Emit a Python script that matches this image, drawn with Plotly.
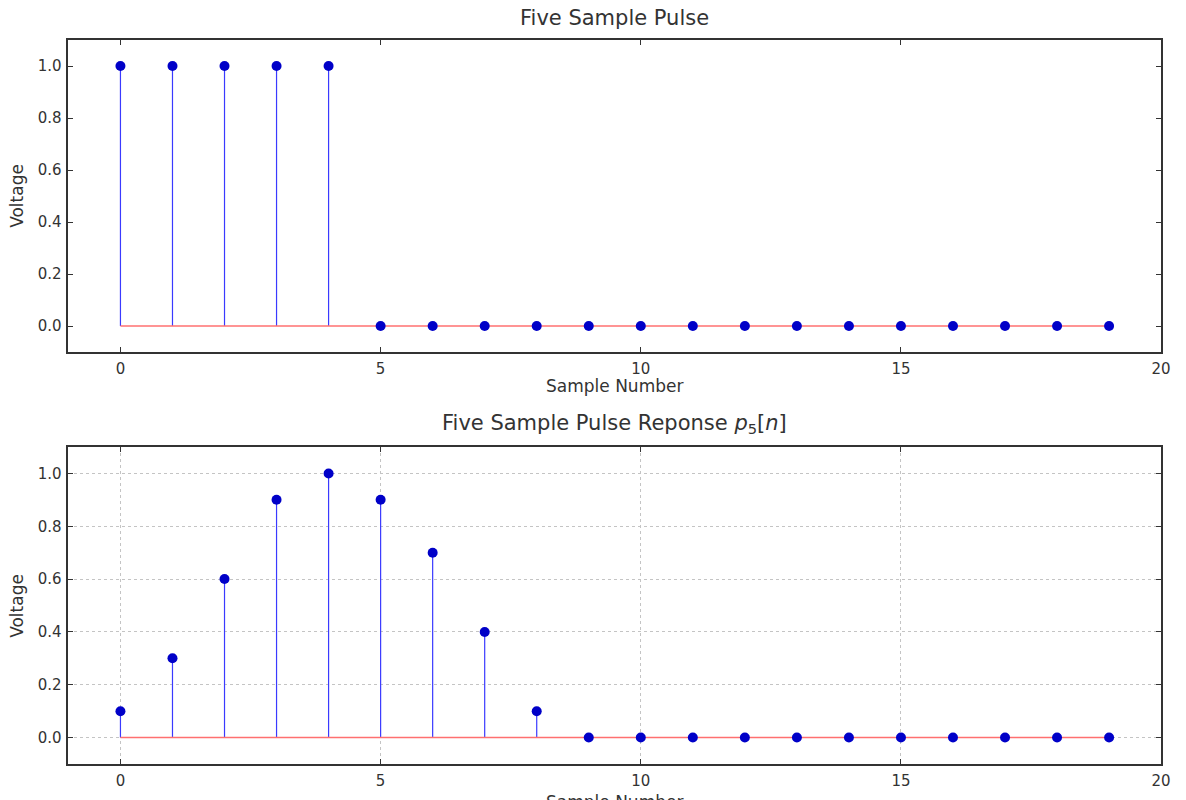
import plotly.graph_objects as go

samples = list(range(20))
pulse = [1, 1, 1, 1, 1] + [0] * 15
response = [0.1, 0.3, 0.6, 0.9, 1.0, 0.9, 0.7, 0.4, 0.1] + [0] * 11
x_ticks = [0, 5, 10, 15, 20]
y_ticks = [0.0, 0.2, 0.4, 0.6, 0.8, 1.0]
y_labels = ["0.0", "0.2", "0.4", "0.6", "0.8", "1.0"]

STEM = "#3a3aff"
MARK = "#0000c8"
BASE = "#ff7070"
FONT = "DejaVu Sans"
W = 1186.0

fig = go.Figure()


def add_stem(values, xa, ya):
    sx, sy = [], []
    for n, v in zip(samples, values):
        sx += [n, n, None]
        sy += [0, v, None]
    fig.add_trace(go.Scatter(x=sx, y=sy, mode="lines", line=dict(color=STEM, width=1.2),
                             xaxis=xa, yaxis=ya, hoverinfo="skip", showlegend=False))
    fig.add_trace(go.Scatter(x=[samples[0], samples[-1]], y=[0, 0], mode="lines",
                             line=dict(color=BASE, width=1.5),
                             xaxis=xa, yaxis=ya, showlegend=False))
    fig.add_trace(go.Scatter(x=samples, y=values, mode="markers",
                             marker=dict(color=MARK, size=10),
                             xaxis=xa, yaxis=ya, showlegend=False))


add_stem(pulse, "x", "y")
add_stem(response, "x2", "y2")

axis_common = dict(showline=True, linecolor="#333333", linewidth=1.5, mirror="ticks",
                   ticks="inside", ticklen=5, tickcolor="#333333", zeroline=False,
                   tickfont=dict(family=FONT, size=15, color="#333333"))

x_dom = [69 / W, 1171 / W]

fig.update_layout(
    width=1186, height=800,
    margin=dict(l=0, r=0, t=0, b=0),
    paper_bgcolor="white", plot_bgcolor="white",
    font=dict(family=FONT, color="#333333"),
    xaxis=dict(domain=x_dom, anchor="y", range=[-1, 20], tickvals=x_ticks,
               showgrid=False, ticklabelstandoff=2, **axis_common),
    yaxis=dict(domain=[0.56, 0.95], anchor="x", range=[-0.1, 1.1], tickvals=y_ticks,
               ticktext=y_labels, showgrid=False, ticklabelstandoff=2, **axis_common),
    xaxis2=dict(domain=x_dom, anchor="y2", range=[-1, 20], tickvals=x_ticks,
                showgrid=True, gridcolor="#c4c4c4", griddash="dot", gridwidth=1,
                ticklabelstandoff=2, **axis_common),
    yaxis2=dict(domain=[0.045, 0.44125], anchor="x2", range=[-0.1, 1.1], tickvals=y_ticks,
                ticktext=y_labels, showgrid=True, gridcolor="#c4c4c4", griddash="dot",
                gridwidth=1, ticklabelstandoff=2, **axis_common),
)

lab_font = dict(family=FONT, size=17, color="#333333")
title_font = dict(family=FONT, size=21, color="#333333")


def note(text, px, py, font, angle=0, yanchor="middle"):
    fig.add_annotation(text=text, x=px / W, y=1 - py / 800, xref="paper", yref="paper",
                       xanchor="center", yanchor=yanchor, showarrow=False, font=font,
                       textangle=angle)


note("Five Sample Pulse", 620, 18, title_font)
note("Five Sample Pulse Reponse <i>p</i><sub>5</sub>[<i>n</i>]", 620, 424, title_font)
note("Sample Number", 620, 386, lab_font)
note("Sample Number", 620, 790, lab_font, yanchor="top")
note("Voltage", 17, 196, lab_font, angle=-90)
note("Voltage", 17, 606, lab_font, angle=-90)

fig.write_html("out.html")
